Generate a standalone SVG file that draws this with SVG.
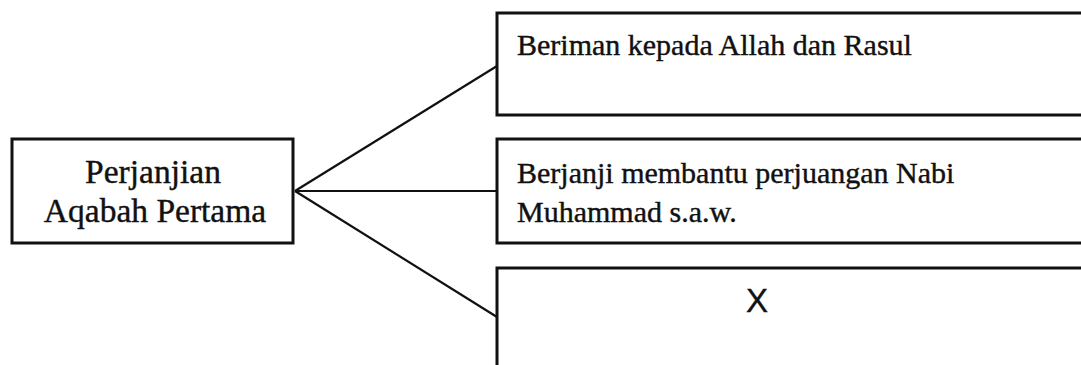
<svg xmlns="http://www.w3.org/2000/svg" width="1081" height="365" viewBox="0 0 1081 365">
<style>
.box{fill:#fff;stroke:#111;stroke-width:3}
.t{font-family:"Liberation Serif","Times New Roman",serif;fill:#111;stroke:#111;stroke-width:0.4}
.c{stroke:#111;stroke-width:2.2;fill:none}
</style>
<rect width="1081" height="365" fill="#fff"/>
<g id="connectors">
<line class="c" x1="295" y1="191" x2="497" y2="66"/>
<line class="c" x1="295" y1="191" x2="497" y2="191"/>
<line class="c" x1="295" y1="191" x2="497" y2="317"/>
</g>
<g id="node-root">
<rect class="box" x="12" y="139" width="281" height="104"/>
<text class="t" x="153" y="183" font-size="33.5" text-anchor="middle">Perjanjian</text>
<text class="t" x="155" y="222" font-size="33.5" text-anchor="middle">Aqabah Pertama</text>
</g>
<g id="node-1">
<rect class="box" x="497" y="13" width="600" height="102"/>
<text class="t" x="517" y="55" font-size="30">Beriman kepada Allah dan Rasul</text>
</g>
<g id="node-2">
<rect class="box" x="497" y="139" width="600" height="104"/>
<text class="t" x="517" y="183" font-size="30">Berjanji membantu perjuangan Nabi</text>
<text class="t" x="517" y="222" font-size="30">Muhammad s.a.w.</text>
</g>
<g id="node-3">
<rect class="box" x="497" y="268" width="600" height="120"/>
<text x="757" y="312" font-size="33" text-anchor="middle" font-family="Liberation Sans, Arial, sans-serif" fill="#111" stroke="#111" stroke-width="0.4">X</text>
</g>
</svg>
